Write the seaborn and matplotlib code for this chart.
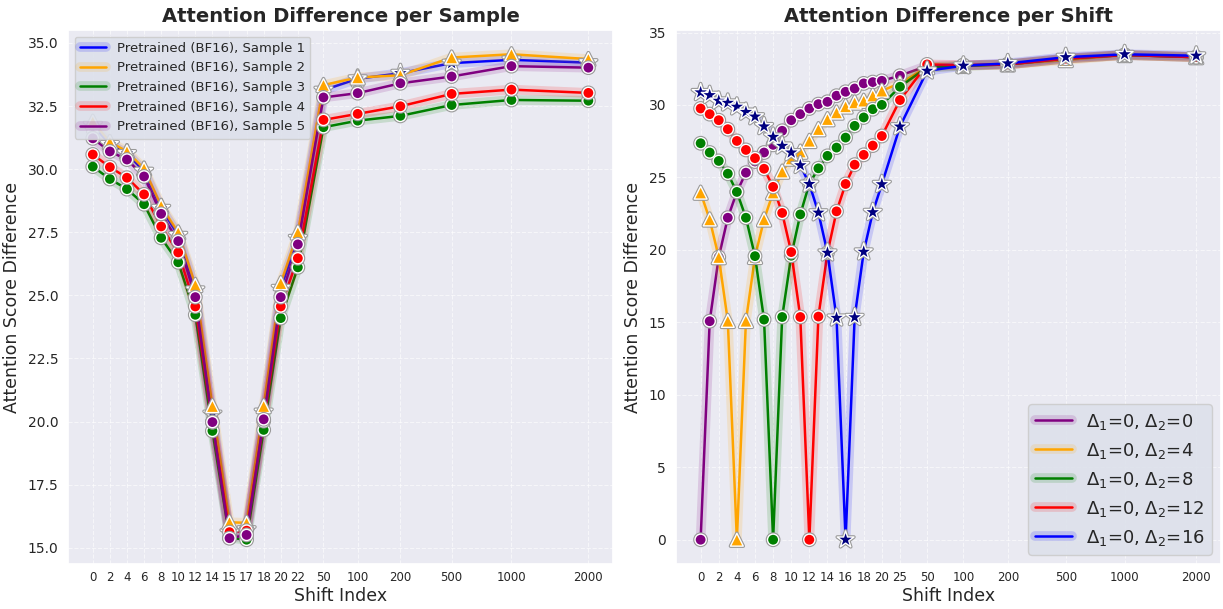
import numpy as np
import pandas as pd
import matplotlib
matplotlib.use("Agg")
import matplotlib.pyplot as plt
import matplotlib.patheffects as pe
from matplotlib.ticker import FixedLocator, NullLocator
import seaborn as sns

# ---- data: left panel (per sample) ----
sample_shifts = [0, 2, 4, 6, 8, 10, 12, 14, 15, 17, 18, 20, 22, 50, 100, 200, 500, 1000, 2000]
sample_names = ["Pretrained (BF16), Sample 1", "Pretrained (BF16), Sample 2",
                "Pretrained (BF16), Sample 3", "Pretrained (BF16), Sample 4",
                "Pretrained (BF16), Sample 5"]
sample_1 = [31.75, 30.98, 30.62, 29.92, 28.45, 27.38, 25.22, 20.30, 15.60, 15.72, 20.38, 25.28, 27.26,
            33.13, 33.58, 33.80, 34.20, 34.33, 34.22]
sample_2 = [31.88, 31.07, 30.70, 30.02, 28.54, 27.49, 25.41, 20.61, 16.01, 15.99, 20.61, 25.48, 27.49,
            33.33, 33.63, 33.72, 34.42, 34.55, 34.36]
sample_3 = [30.10, 29.61, 29.21, 28.61, 27.28, 26.31, 24.23, 19.63, 15.40, 15.32, 19.67, 24.10, 26.11,
            31.66, 31.92, 32.11, 32.54, 32.74, 32.71]
sample_4 = [30.58, 30.08, 29.66, 29.00, 27.73, 26.70, 24.56, 19.98, 15.62, 15.68, 20.02, 24.56, 26.47,
            31.95, 32.19, 32.49, 32.98, 33.15, 33.02]
sample_5 = [31.22, 30.70, 30.38, 29.71, 28.23, 27.15, 24.93, 19.98, 15.38, 15.51, 20.09, 24.93, 27.02,
            32.84, 33.01, 33.40, 33.67, 34.08, 34.02]

# ---- data: right panel (per shift offset) ----
shift_shifts = list(range(0, 21)) + [25, 50, 100, 200, 500, 1000, 2000]
shift_tick_labels = [0, 2, 4, 6, 8, 10, 12, 14, 16, 18, 20, 25, 50, 100, 200, 500, 1000, 2000]
delta2 = [0, 4, 8, 12, 16]
d2_0 = [0.0, 15.08, 19.50, 22.22, 24.00, 25.33, 26.10, 26.72, 27.25, 28.22, 28.95, 29.37, 29.76, 30.06,
        30.22, 30.64, 30.91, 31.14, 31.49, 31.58, 31.67, 32.02, 32.70, 32.75, 32.80, 33.20, 33.45, 33.30]
d2_4 = [23.95, 22.10, 19.50, 15.10, 0.0, 15.10, 19.52, 22.10, 23.95, 25.40, 26.30, 26.78, 27.52, 28.33,
        29.02, 29.48, 29.90, 30.17, 30.29, 30.64, 30.98, 31.50, 32.60, 32.70, 32.80, 33.10, 33.45, 33.30]
d2_8 = [27.36, 26.72, 26.14, 25.26, 24.00, 22.22, 19.57, 15.19, 0.0, 15.37, 19.60, 22.45, 24.57, 25.63,
        26.49, 27.06, 27.75, 28.56, 29.14, 29.71, 30.01, 31.26, 32.60, 32.70, 32.80, 33.20, 33.45, 33.30]
d2_12 = [29.76, 29.37, 28.95, 28.33, 27.52, 26.90, 26.33, 25.60, 24.35, 22.55, 19.85, 15.37, 0.0, 15.40,
         19.80, 22.66, 24.55, 25.88, 26.56, 27.20, 27.86, 30.34, 32.80, 32.75, 32.80, 33.20, 33.45, 33.30]
d2_16 = [30.87, 30.68, 30.29, 30.15, 29.88, 29.52, 29.20, 28.52, 27.80, 27.18, 26.72, 25.84, 24.55, 22.57,
         19.80, 15.31, 0.0, 15.35, 19.87, 22.60, 24.53, 28.51, 32.36, 32.71, 32.87, 33.30, 33.50, 33.40]

left_df = pd.DataFrame({"shift": sample_shifts * 5,
                        "value": sample_1 + sample_2 + sample_3 + sample_4 + sample_5,
                        "series": [n for n in sample_names for _ in sample_shifts]})
right_names = [f"$\\Delta_1$=0, $\\Delta_2$={d}" for d in delta2]
right_df = pd.DataFrame({"shift": shift_shifts * 5,
                         "value": d2_0 + d2_4 + d2_8 + d2_12 + d2_16,
                         "series": [n for n in right_names for _ in shift_shifts]})

# axis layout: where each tick sits along the x axis
left_axis_pos = list(range(13)) + [13.5, 15.5, 18.0, 21.0, 24.5, 29.0]
right_axis_pos = list(range(21)) + [22.0, 25.0, 29.0, 33.9, 40.3, 46.8, 54.7]


def piecewise_scale(src, dst):
    src = np.asarray(src, float)
    dst = np.asarray(dst, float)

    def make(a, b):
        def f(x):
            x = np.asarray(x, float)
            y = np.interp(x, a, b)
            lo = b[0] + (x - a[0]) * (b[1] - b[0]) / (a[1] - a[0])
            hi = b[-1] + (x - a[-1]) * (b[-1] - b[-2]) / (a[-1] - a[-2])
            return np.where(x < a[0], lo, np.where(x > a[-1], hi, y))
        return f
    return make(src, dst), make(dst, src)


sns.set_theme(style="darkgrid")
plt.rcParams["font.family"] = ["DejaVu Sans"]

fig, (ax1, ax2) = plt.subplots(1, 2, figsize=(12.23, 6.09), dpi=100)
fig.subplots_adjust(left=68 / 1223, right=1221 / 1223, bottom=1 - 564 / 609, top=1 - 30 / 609, wspace=0.115)

line_colors = ["blue", "orange", "green", "red", "purple"]
left_markers = ["*", "^", "o", "o", "o"]
left_fill = ["navy", "orange", "green", "red", "purple"]
right_colors = ["purple", "orange", "green", "red", "blue"]
right_markers = ["o", "^", "o", "o", "*"]
right_fill = ["purple", "orange", "green", "red", "navy"]

marker_fx = [pe.Stroke(linewidth=2.6, foreground="#999999"), pe.Normal()]


def draw(ax, df, names, colors, markers, fills):
    for name, c in zip(names, colors):
        sub = df[df["series"] == name]
        sns.lineplot(data=sub, x="shift", y="value", ax=ax, color=c, linewidth=1.8, label=name,
                     path_effects=[pe.Stroke(linewidth=7, foreground=c, alpha=0.15), pe.Normal()],
                     zorder=2)
    for name, m, f in zip(names, markers, fills):
        sub = df[df["series"] == name]
        sns.scatterplot(data=sub, x="shift", y="value", ax=ax, color=f, marker=m,
                        s=160 if m == "*" else (85 if m == "^" else 65),
                        edgecolor="white", linewidth=1.0, zorder=3, legend=False,
                        path_effects=marker_fx)


draw(ax1, left_df, sample_names, line_colors, left_markers, left_fill)
draw(ax2, right_df, right_names, right_colors, right_markers, right_fill)

ax1.set_xscale("function", functions=piecewise_scale(sample_shifts, left_axis_pos))
ax2.set_xscale("function", functions=piecewise_scale(shift_shifts, right_axis_pos))

ax1.xaxis.set_major_locator(FixedLocator(sample_shifts))
ax1.set_xticklabels([str(s) for s in sample_shifts])
ax2.xaxis.set_major_locator(FixedLocator(shift_tick_labels))
ax2.set_xticklabels([str(s) for s in shift_tick_labels])

for ax, title in [(ax1, "Attention Difference per Sample"), (ax2, "Attention Difference per Shift")]:
    ax.xaxis.set_minor_locator(NullLocator())
    ax.autoscale_view()
    ax.set_title(title, fontsize=14, fontweight="bold")
    ax.set_xlabel("Shift Index", fontsize=12.5, labelpad=2)
    ax.set_ylabel("Attention Score Difference", fontsize=12.5, labelpad=5)
    ax.tick_params(axis="x", labelsize=8.5, length=0, pad=5)
    ax.tick_params(axis="y", labelsize=10, length=0, pad=7)
    ax.grid(True, linestyle="--", linewidth=0.8, alpha=0.6)

ax1.legend(loc="upper left", fontsize=9.5, facecolor="#dde1eb", framealpha=0.9)
ax2.legend(loc="lower right", fontsize=13, facecolor="#dde1eb", framealpha=0.9)

plt.savefig("out.png", dpi=100)
